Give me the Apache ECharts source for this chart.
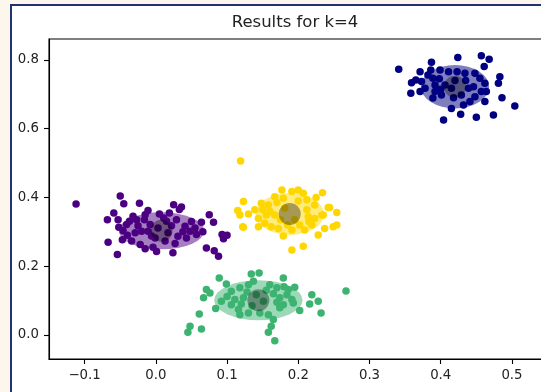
<!DOCTYPE html>
<html>
<head>
<meta charset="utf-8">
<script src="https://cdn.jsdelivr.net/npm/echarts@6/dist/echarts.min.js"></script>
<style>
  html, body { margin: 0; padding: 0; width: 541px; height: 392px; overflow: hidden; background: #fdf6ec; }
  #frame { position: absolute; left: 10px; top: 4px; width: 600px; height: 500px; background: #fff;
           border-left: 2px solid #1f3372; border-top: 2px solid #1f3372; }
  #chart { position: absolute; left: 0; top: 0; width: 544px; height: 392px; }
</style>
</head>
<body>
<div id="frame"></div>
<div id="chart"></div>
<script>
var clusterColors = ['#4b0082', '#3cb371', '#ffd700', '#000080'];

var purplePoints = [
    [-0.112, 0.381], [-0.050, 0.404], [-0.045, 0.382], [-0.023, 0.383], [-0.059, 0.355], [-0.068, 0.335],
    [-0.053, 0.335], [-0.011, 0.362], [0.005, 0.352], [0.019, 0.355], [0.025, 0.379], [0.033, 0.365],
    [0.075, 0.350], [0.081, 0.328], [0.064, 0.328], [0.055, 0.311], [-0.052, 0.313], [-0.046, 0.303],
    [-0.037, 0.331], [-0.027, 0.335], [-0.016, 0.335], [-0.029, 0.297], [-0.020, 0.302], [-0.011, 0.302],
    [0.015, 0.331], [0.029, 0.335], [0.041, 0.316], [0.048, 0.302], [0.031, 0.287], [0.043, 0.282],
    [0.057, 0.292], [-0.047, 0.277], [-0.067, 0.270], [-0.034, 0.273], [-0.022, 0.263], [-0.015, 0.251],
    [-0.004, 0.255], [0.001, 0.243], [0.013, 0.273], [0.024, 0.239], [-0.054, 0.234], [0.071, 0.253],
    [0.082, 0.245], [0.088, 0.229], [0.095, 0.280], [0.100, 0.290], [0.093, 0.292], [-0.008, 0.321],
    [0.003, 0.311], [-0.041, 0.321], [-0.001, 0.282], [0.017, 0.297], [0.036, 0.372], [0.011, 0.340],
    [-0.032, 0.345], [0.066, 0.300], [-0.025, 0.318], [0.022, 0.318], [0.038, 0.300], [-0.006, 0.288],
    [0.027, 0.266], [-0.040, 0.290], [0.050, 0.330], [-0.015, 0.350]
];
var greenPoints = [
    [0.089, 0.166], [0.099, 0.148], [0.134, 0.177], [0.145, 0.180], [0.179, 0.166], [0.071, 0.132],
    [0.076, 0.122], [0.067, 0.108], [0.106, 0.127], [0.118, 0.137], [0.130, 0.146], [0.137, 0.156],
    [0.160, 0.146], [0.170, 0.137], [0.186, 0.132], [0.195, 0.139], [0.219, 0.117], [0.228, 0.098],
    [0.216, 0.090], [0.232, 0.064], [0.202, 0.071], [0.191, 0.103], [0.174, 0.108], [0.174, 0.079],
    [0.092, 0.098], [0.084, 0.077], [0.106, 0.088], [0.116, 0.074], [0.130, 0.064], [0.118, 0.059],
    [0.146, 0.064], [0.158, 0.059], [0.165, 0.045], [0.162, 0.025], [0.158, 0.008], [0.061, 0.061],
    [0.048, 0.025], [0.045, 0.008], [0.064, 0.017], [0.111, 0.103], [0.123, 0.108], [0.179, 0.088],
    [0.193, 0.093], [0.184, 0.117], [0.141, 0.117], [0.151, 0.098], [0.267, 0.128], [0.167, -0.017],
    [0.128, 0.125], [0.155, 0.130], [0.100, 0.112], [0.170, 0.095], [0.135, 0.085], [0.180, 0.140],
    [0.120, 0.090], [0.165, 0.120]
];
var yellowPoints = [
    [0.119, 0.506], [0.123, 0.388], [0.115, 0.362], [0.118, 0.349], [0.130, 0.352], [0.123, 0.313],
    [0.139, 0.364], [0.144, 0.339], [0.148, 0.383], [0.158, 0.378], [0.155, 0.349], [0.153, 0.325],
    [0.162, 0.315], [0.167, 0.402], [0.177, 0.422], [0.179, 0.398], [0.191, 0.417], [0.200, 0.422],
    [0.207, 0.412], [0.212, 0.393], [0.223, 0.378], [0.234, 0.414], [0.242, 0.371], [0.235, 0.349],
    [0.223, 0.339], [0.214, 0.344], [0.219, 0.320], [0.209, 0.305], [0.202, 0.320], [0.237, 0.310],
    [0.249, 0.315], [0.228, 0.291], [0.191, 0.305], [0.179, 0.288], [0.172, 0.310], [0.207, 0.258],
    [0.191, 0.247], [0.144, 0.315], [0.167, 0.349], [0.181, 0.369], [0.212, 0.364], [0.254, 0.356],
    [0.254, 0.320], [0.233, 0.349], [0.244, 0.371], [0.122, 0.315], [0.160, 0.360], [0.195, 0.335],
    [0.200, 0.390], [0.185, 0.320], [0.170, 0.385], [0.225, 0.400], [0.150, 0.365], [0.215, 0.330],
    [0.175, 0.335]
];
var navyPoints = [
    [0.341, 0.773], [0.424, 0.807], [0.457, 0.812], [0.468, 0.802], [0.461, 0.781], [0.387, 0.793],
    [0.386, 0.771], [0.371, 0.766], [0.365, 0.742], [0.359, 0.734], [0.373, 0.737], [0.358, 0.703],
    [0.371, 0.708], [0.389, 0.747], [0.392, 0.727], [0.389, 0.689], [0.399, 0.771], [0.411, 0.766],
    [0.423, 0.766], [0.434, 0.761], [0.448, 0.761], [0.455, 0.747], [0.462, 0.732], [0.483, 0.751],
    [0.481, 0.732], [0.464, 0.708], [0.486, 0.690], [0.504, 0.666], [0.474, 0.640], [0.450, 0.633],
    [0.428, 0.642], [0.404, 0.625], [0.415, 0.659], [0.432, 0.669], [0.441, 0.679], [0.448, 0.693],
    [0.462, 0.679], [0.406, 0.727], [0.415, 0.718], [0.401, 0.698], [0.439, 0.718], [0.446, 0.722],
    [0.429, 0.698], [0.378, 0.718], [0.392, 0.708], [0.382, 0.756], [0.457, 0.708], [0.398, 0.745],
    [0.420, 0.740], [0.435, 0.740], [0.418, 0.690], [0.400, 0.715]
];

// cluster centers and ellipse half-widths (x, y), same order as clusterColors
var centroids = [[0.008, 0.303], [0.144, 0.101], [0.188, 0.352], [0.420, 0.722]];
var ellipseRadii = [[0.060, 0.054], [0.062, 0.058], [0.048, 0.061], [0.048, 0.063]];

var xTicks = [-0.1, 0.0, 0.1, 0.2, 0.3, 0.4, 0.5];
var yTicks = [0.0, 0.2, 0.4, 0.6, 0.8];

function fmt(v) {
    var s = Number(v).toFixed(1);
    return s.charAt(0) === '-' ? '\u2212' + s.slice(1) : s;
}

var chart = echarts.init(document.getElementById('chart'));

var spine = { color: '#000', width: 1.1 };
var labelStyle = { color: '#222', fontSize: 13.3, fontFamily: 'DejaVu Sans', margin: 10, formatter: fmt };

var pointSeries = [purplePoints, greenPoints, yellowPoints, navyPoints].map(function (pts, i) {
    return {
        type: 'scatter',
        data: pts,
        symbolSize: 7.5,
        itemStyle: { color: clusterColors[i], opacity: 1 },
        z: 2,
        silent: true
    };
});

var ellipseData = centroids.map(function (c, i) {
    return [c[0], c[1], ellipseRadii[i][0], ellipseRadii[i][1], i];
});

var option = {
    animation: false,
    graphic: [{
        type: 'text',
        x: 295,
        y: 23,
        style: {
            text: 'Results for k=4',
            fill: '#222',
            fontSize: 16.5,
            fontFamily: 'DejaVu Sans',
            textAlign: 'center',
            textVerticalAlign: 'middle'
        }
    }],
    grid: { left: 49, top: 39, right: 0, bottom: 33, show: true, borderColor: '#000', borderWidth: 1.1, backgroundColor: 'transparent' },
    xAxis: {
        type: 'value',
        min: -0.15,
        max: 0.545,
        splitLine: { show: false },
        axisLine: { show: true, onZero: false, lineStyle: spine },
        axisTick: { customValues: xTicks, length: 5, lineStyle: spine },
        axisLabel: Object.assign({}, labelStyle, { customValues: xTicks })
    },
    yAxis: {
        type: 'value',
        min: -0.07,
        max: 0.861,
        splitLine: { show: false },
        axisLine: { show: true, onZero: false, lineStyle: spine },
        axisTick: { customValues: yTicks, length: 5, lineStyle: spine },
        axisLabel: Object.assign({}, labelStyle, { customValues: yTicks })
    },
    series: pointSeries.concat([
        {
            type: 'custom',
            data: ellipseData,
            z: 3,
            silent: true,
            renderItem: function (params, api) {
                var p = api.coord([api.value(0), api.value(1)]);
                var s = api.size([api.value(2), api.value(3)]);
                return {
                    type: 'circle',
                    x: p[0],
                    y: p[1],
                    scaleY: s[1] / s[0],
                    shape: { cx: 0, cy: 0, r: s[0] },
                    style: { fill: clusterColors[api.value(4)], opacity: 0.5 }
                };
            }
        },
        {
            type: 'scatter',
            data: centroids,
            symbolSize: 22,
            itemStyle: { color: '#000', opacity: 0.35 },
            z: 4,
            silent: true
        }
    ])
};

chart.setOption(option);
</script>
</body>
</html>
